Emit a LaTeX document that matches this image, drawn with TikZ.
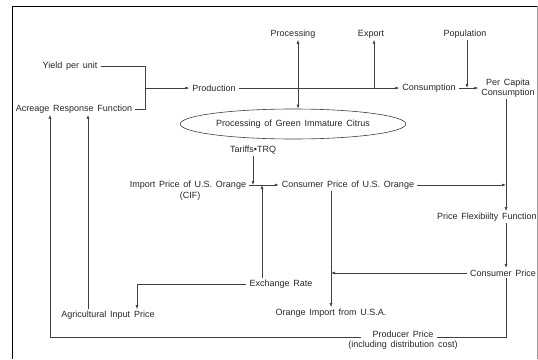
\documentclass[tikz,border=0pt]{standalone}
\usepackage{fontspec}
\setmainfont[WordSpace=1.5]{Liberation Sans}
\usetikzlibrary{arrows.meta,shapes.geometric}
\tikzset{
  link/.style={draw=black!75, line width=0.6pt},
  arr/.style={link, -{Latex[length=4pt,width=3pt]}},
  arrboth/.style={link, {Latex[length=4pt,width=3pt]}-{Latex[length=4pt,width=3pt]}},
  lbl/.style={inner xsep=3pt, inner ysep=1.5pt, text=black!85}
}
\begin{document}
\begin{tikzpicture}[x=1pt,y=-1pt,font=\fontsize{9}{10}\selectfont]
\useasboundingbox (0,0) rectangle (538,359);
\draw[line width=0.8pt] (12,359) -- (12,6) -- (537,6);
\draw[black!40, line width=0.8pt] (537,6) -- (537,359);

\node[lbl] (yield) at (70,66) {Yield per unit};
\node[lbl] (acreage) at (74,109) {Acreage Response Function};
\node[lbl] (prod) at (214,88) {Production};
\node[lbl] (procs) at (293,34) {Processing};
\node[lbl] (export) at (371,34) {Export};
\node[lbl] (popul) at (465,34) {Population};
\node[lbl] (cons) at (429,88) {Consumption};
\node[lbl, align=center] (percap) at (508,88) {Per Capita\\Consumption};
\node[lbl, draw=black!75, line width=0.6pt, ellipse, minimum width=168, minimum height=30] (green) at (293,124) {Processing of Green Immature Citrus};
\node[lbl] (tariff) at (253,150) {Tariffs•TRQ};
\node[lbl] (imp) at (188,185) {Import Price of U.S. Orange};
\node[lbl] (cif) at (190,196) {(CIF)};
\node[lbl] (conspus) at (348,185) {Consumer Price of U.S. Orange};
\node[lbl] (flex) at (487,217) {Price Flexibiilty Function};
\node[lbl] (consp) at (503,273) {Consumer Price};
\node[lbl] (exch) at (281,284) {Exchange Rate};
\node[lbl] (agri) at (108,315) {Agricultural Input Price};
\node[lbl] (orimp) at (331,313) {Orange Import from U.S.A.};
\node[lbl] (prodp) at (403,334) {Producer Price};
\node[lbl] (cost) at (403,345) {(including distribution cost)};

\coordinate (ja) at (145,88);
\draw[link] (yield.east) -| (ja);
\draw[link] (acreage.east) -| (ja);
\draw[arr] (ja) -- (prod.west);
\draw[arr] (prod.east) -- (cons.west);
\draw[arrboth] ([xshift=5]procs.south) -- ([xshift=5]procs.south |- green.north);
\draw[arr] ([xshift=3]export.south |- prod.east) -- ([xshift=3]export.south);
\draw[arr] ([xshift=2]popul.south) -- ([xshift=2]popul.south |- cons.east);
\draw[arr] (cons.east) -- (percap.west);
\draw[arr] ([xshift=-2]percap.south) -- ([xshift=-2]percap.south |- flex.north);
\draw[arr] ([xshift=-2]percap.south |- flex.south) -- ([xshift=-2]percap.south |- consp.north);
\draw[arr] (tariff.south) -- (tariff.south |- imp.east);
\draw[arr] (imp.east) -- (conspus.west);
\draw[arr] ([xshift=-19]exch.north) -- ([xshift=-19]exch.north |- imp.east);
\draw[arr] (conspus.east) -- ([xshift=-2]conspus.east -| percap.south);
\draw[arr] (conspus.south -| orimp.north) -- (orimp.north);
\draw[arr] (consp.west) -- (consp.west -| orimp.north);
\draw[arr] (exch.west) -| ([xshift=29]agri.north);
\draw[arr] ([xshift=-20]agri.north) -- ([xshift=-20]agri.north |- acreage.south);
\draw[link] ([xshift=-2]percap.south |- consp.south) |- (prodp.base east);
\draw[arr] ([xshift=-8]prodp.base west) -| ([xshift=-24]acreage.south);
\end{tikzpicture}
\end{document}
